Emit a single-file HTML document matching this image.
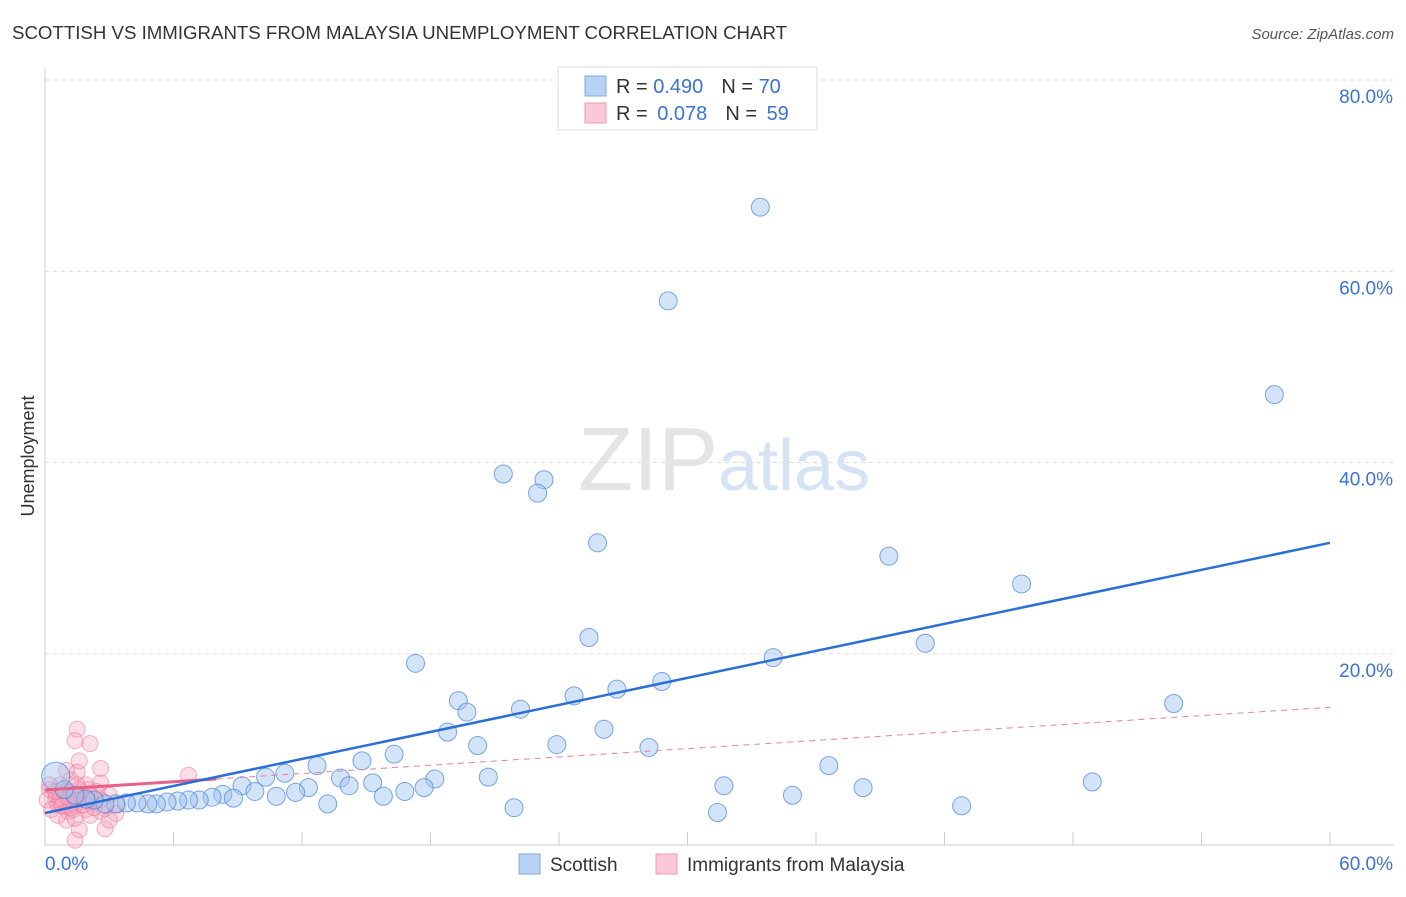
<!DOCTYPE html>
<html><head><meta charset="utf-8"><style>
body{margin:0;background:#fff;font-family:"Liberation Sans",sans-serif}
svg text{font-family:"Liberation Sans",sans-serif}
</style></head><body>
<svg id="chart" width="1406" height="892">
<text x="12" y="39" font-size="18" fill="#333" textLength="775" lengthAdjust="spacingAndGlyphs">SCOTTISH VS IMMIGRANTS FROM MALAYSIA UNEMPLOYMENT CORRELATION CHART</text>
<text x="1394" y="39" font-size="15" fill="#555" font-style="italic" text-anchor="end">Source: ZipAtlas.com</text>
<text x="34" y="456" font-size="18" fill="#333" text-anchor="middle" transform="rotate(-90 34 456)">Unemployment</text>
<g id="grid"></g>
<text x="718" y="490" font-size="90" fill="#e4e4e4" text-anchor="end" font-family="Liberation Serif">ZIP</text>
<text x="718" y="490" font-size="72" fill="#d6e3f5">atlas</text>
<g id="marks"></g>
<g>
<rect x="558" y="67" width="259" height="63" fill="#fff" stroke="#ddd"/>
<rect x="585" y="76" width="21" height="20" fill="#b8d2f4" stroke="#7fa8e0"/>
<rect x="585" y="103" width="21" height="20" fill="#fac8d6" stroke="#ef9ab4"/>
<text x="616" y="93" font-size="20" fill="#333">R = <tspan fill="#3a72d6">0.490</tspan><tspan dx="18">N = </tspan><tspan fill="#3a72d6">70</tspan></text>
<text x="616" y="120" font-size="20" fill="#333">R = <tspan fill="#3a72d6" dx="4">0.078</tspan><tspan dx="18">N = </tspan><tspan fill="#3a72d6" dx="4">59</tspan></text>
</g>
<g>
<rect x="519" y="854" width="21" height="20" fill="#b8d2f4" stroke="#7fa8e0"/>
<text x="550" y="871" font-size="19" fill="#333">Scottish</text>
<rect x="656" y="854" width="21" height="20" fill="#fac8d6" stroke="#ef9ab4"/>
<text x="687" y="871" font-size="19" fill="#333">Immigrants from Malaysia</text>
</g>
</svg>
<script>
const yTicks=[20,40,60,80];
const xTickLabels=["0.0%","60.0%"];
const blueX=[33.4,29.1,57.4,21.4,23.3,23.0,25.8,39.4,45.6,25.4,41.1,34.0,17.3,52.7,19.3,28.8,26.7,24.7,19.7,22.2,18.8,26.1,20.2,23.9,28.2,16.3,14.8,12.7,36.6,48.9,31.7,38.2,18.2,20.7,13.8,10.3,11.2,9.2,12.3,15.3,14.2,17.7,16.8,15.8,11.7,10.8,9.8,34.9,42.8,31.4,21.9,13.2,8.3,8.8,7.8,7.2,6.7,6.2,5.7,5.2,4.8,4.3,3.8,3.3,2.8,2.3,1.9,1.4,0.9,0.5];
const blueY=[66.7,56.9,47.1,38.8,38.2,36.8,31.6,30.2,27.3,21.7,21.1,19.6,19.0,14.8,15.1,17.1,16.3,15.6,13.9,14.2,11.8,12.1,10.4,10.5,10.2,9.5,8.8,8.3,8.3,6.6,6.2,6.0,6.9,7.1,7.0,7.1,7.5,6.2,6.0,6.5,6.2,6.0,5.6,5.1,5.5,5.1,5.6,5.2,4.1,3.4,3.9,4.3,5.3,4.9,5.0,4.7,4.7,4.6,4.5,4.3,4.3,4.4,4.4,4.3,4.3,4.7,4.8,5.2,5.8,7.2];
const blueR=[9,9,9,9,9,9,9,9,9,9,9,9,9,9,9,9,9,9,9,9,9,9,9,9,9,9,9,9,9,9,9,9,9,9,9,9,9,9,9,9,9,9,9,9,9,9,9,9,9,9,9,9,9,9,9,9,9,9,9,9,9,9,9,9,9,9,9,9,9,14];
const pinkX=[1.5,1.4,2.1,1.6,2.6,1.5,6.7,0.7,1.2,2.0,2.6,0.5,0.9,1.4,1.9,2.3,3.0,0.2,0.6,1.1,1.5,2.1,2.8,3.3,1.6,2.8,1.4,1.0,0.5,0.8,1.3,1.7,2.2,2.6,3.4,0.1,0.3,0.7,1.2,1.6,1.9,2.4,3.0,1.0,1.3,0.6,1.8,2.3,0.2,0.8,1.4,2.1,2.6,1.0,1.5,0.5,1.1,2.0,1.4];
const pinkY=[12.1,10.9,10.6,8.8,8.0,7.6,7.3,6.3,6.8,5.8,6.5,5.2,4.7,4.2,3.7,4.7,5.2,5.8,4.2,3.5,4.7,3.1,3.8,3.3,1.6,1.7,0.5,2.6,4.7,5.8,5.2,5.0,4.5,3.5,4.2,4.7,3.7,4.9,3.9,5.8,6.3,5.6,2.6,7.8,3.7,3.1,4.2,3.9,6.3,4.1,5.2,5.2,4.7,5.6,6.3,5.6,4.9,4.7,2.8];
const blueTrend=[3.35,31.6];
const pinkTrend=[5.75,14.4];
const NS='http://www.w3.org/2000/svg';
const X0=45,X1=1330,Y0=845,PERY=191.25/20;
const sx=v=>X0+v/60*(X1-X0);
const sy=v=>Y0-v*PERY;
const grid=document.getElementById('grid'),marks=document.getElementById('marks');
function mk(p,tag,a){const e=document.createElementNS(NS,tag);for(const k in a)e.setAttribute(k,a[k]);p.appendChild(e);return e;}
let ax=mk(grid,'line',{x1:45,y1:68,x2:45,y2:845,stroke:'#ccc'});


let bx=mk(grid,'line',{x1:45,y1:845,x2:1394,y2:845,stroke:'#ccc'});


for(let i=1;i<=10;i++){const t=mk(grid,'line',{x1:sx(i*6),y1:832,x2:sx(i*6),y2:845,stroke:'#ccc'});

}
yTicks.forEach(v=>{const g=mk(grid,'line',{x1:45,y1:sy(v),x2:1394,y2:sy(v),stroke:'#ddd','stroke-dasharray':'4,4'});


const t=mk(grid,'text',{x:1393,y:sy(v)+23,'font-size':19,fill:'#3a72d6','text-anchor':'end'});t.textContent=v.toFixed(1)+'%';

});
const xl0=mk(grid,'text',{x:45,y:870,'font-size':19,fill:'#3a72d6'});xl0.textContent=xTickLabels[0];


const xl1=mk(grid,'text',{x:1393,y:870,'font-size':19,fill:'#3a72d6','text-anchor':'end'});xl1.textContent=xTickLabels[1];


pinkX.forEach((x,i)=>{const c=mk(marks,'circle',{cx:sx(x),cy:sy(pinkY[i]),r:8,fill:'rgba(245,160,185,0.35)',stroke:'rgba(232,110,150,0.5)'});

});
blueX.forEach((x,i)=>{const c=mk(marks,'circle',{cx:sx(x),cy:sy(blueY[i]),r:blueR[i],fill:'rgba(160,195,240,0.45)',stroke:'rgba(70,130,215,0.7)'});

});
const pl=v=>pinkTrend[0]+(pinkTrend[1]-pinkTrend[0])*v/60;
const pd=mk(marks,'line',{x1:sx(8),y1:sy(pl(8)),x2:sx(60),y2:sy(pl(60)),stroke:'#e87fa0','stroke-width':1,'stroke-dasharray':'6,5'});


const ps=mk(marks,'line',{x1:sx(0),y1:sy(pl(0)),x2:sx(8),y2:sy(pl(8)),stroke:'#e8608a','stroke-width':3});


const bt=mk(marks,'line',{x1:sx(0),y1:sy(blueTrend[0]),x2:sx(60),y2:sy(blueTrend[1]),stroke:'#2a6fd6','stroke-width':2.5});


</script>
</body></html>
